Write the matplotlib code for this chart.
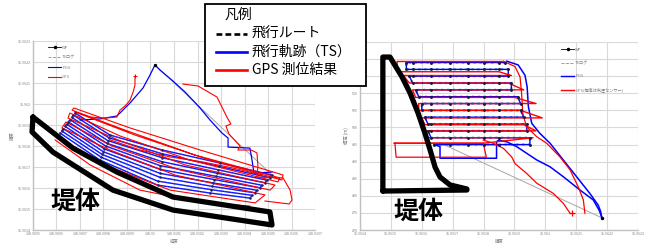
import matplotlib
matplotlib.use('Agg')
import matplotlib.pyplot as plt
from matplotlib.lines import Line2D
from matplotlib.patches import Rectangle

plt.rcParams['font.family'] = ['Noto Sans CJK JP', 'DejaVu Sans']

# ---------------- 左図 (経度 / 緯度) ----------------
# 往復飛行のパス (下から上へ 10 本): 始点, 中間1, 中間2, 中間3, 終点
pass_lon_s = [138.909615, 138.909622, 138.909629, 138.909636, 138.909643, 138.909650, 138.909658, 138.909665, 138.909672, 138.909679]
pass_lon_m1 = [138.909785, 138.909790, 138.909794, 138.909799, 138.909804, 138.909809, 138.909814, 138.909818, 138.909823, 138.909828]
pass_lon_m2 = [138.91003, 138.91003, 138.91004, 138.91004, 138.91004, 138.91004, 138.91005, 138.91005, 138.91005, 138.91005]
pass_lon_m3 = [138.910253, 138.910258, 138.910262, 138.910267, 138.910272, 138.910277, 138.910281, 138.910286, 138.910291, 138.910296]
pass_lon_e = [138.910423, 138.910433, 138.910444, 138.910454, 138.910465, 138.910475, 138.910486, 138.910496, 138.910507, 138.910517]
pass_lat_s = [35.961862, 35.961872, 35.961883, 35.961894, 35.961904, 35.961915, 35.961925, 35.961936, 35.961947, 35.961957]
pass_lat_m1 = [35.961733, 35.961747, 35.961760, 35.961773, 35.961786, 35.961800, 35.961813, 35.961826, 35.961839, 35.961852]
pass_lat_m2 = [35.961614, 35.961633, 35.961651, 35.961670, 35.961689, 35.961707, 35.961725, 35.961744, 35.961763, 35.961781]
pass_lat_m3 = [35.961576, 35.961592, 35.961608, 35.961624, 35.961640, 35.961656, 35.961671, 35.961687, 35.961703, 35.961719]
pass_lat_e = [35.961552, 35.961565, 35.961577, 35.961589, 35.961601, 35.961613, 35.961625, 35.961637, 35.961649, 35.961662]

# 移動区間 (POS)
transit_lon = [138.909700, 138.909785, 138.909857, 138.909870, 138.909913, 138.909968, 138.909998, 138.910019,
               138.910040, 138.910091, 138.910147, 138.910211, 138.910253, 138.910304, 138.910330, 138.910330,
               138.910423, 138.910432, 138.910440, 138.910517]
transit_lat = [35.961924, 35.961929, 35.961943, 35.961957, 35.962005, 35.962076, 35.962138, 35.962186,
               35.962162, 35.962114, 35.962057, 35.961981, 35.961924, 35.961862, 35.961838, 35.961795,
               35.961790, 35.961733, 35.961671, 35.961676]

# 飛行ルート (WP) 直線区間
route_lon = [138.910019, 138.910517]
route_lat = [35.962186, 35.961662]

# GPS パス (8 本): 始点, 中間1, 中間2, 終点
gps_lon_s = [138.909606, 138.909623, 138.909640, 138.909649, 138.909657, 138.909666, 138.909674, 138.909679]
gps_lon_m1 = [138.909806, 138.909828, 138.909836, 138.909862, 138.909870, 138.909891, 138.909913, 138.909934]
gps_lon_m2 = [138.910083, 138.910104, 138.910125, 138.910147, 138.910168, 138.910189, 138.910211, 138.910253]
gps_lon_e = [138.910445, 138.910487, 138.910509, 138.910530, 138.910542, 138.910551, 138.910564, 138.910559]
gps_lat_s = [35.961838, 35.961886, 35.961914, 35.961933, 35.961957, 35.961971, 35.961981, 35.961962]
gps_lat_m1 = [35.961710, 35.961781, 35.961800, 35.961829, 35.961848, 35.961876, 35.961886, 35.961852]
gps_lat_m2 = [35.961590, 35.961662, 35.961686, 35.961710, 35.961733, 35.961757, 35.961781, 35.961733]
gps_lat_e = [35.961529, 35.961567, 35.961590, 35.961614, 35.961629, 35.961648, 35.961662, 35.961638]

gpsA_lon = [138.909934, 138.909934, 138.909926, 138.909913, 138.909896, 138.909870, 138.909857, 138.909806, 138.909743, 138.909679]
gpsA_lat = [35.962133, 35.962090, 35.962057, 35.962019, 35.961995, 35.961971, 35.961938, 35.961933, 35.961938, 35.961962]
gpsB_lon = [138.910138, 138.910202, 138.910283, 138.910325, 138.910342, 138.910321, 138.910334, 138.910381, 138.910372,
            138.910428, 138.910453, 138.910457, 138.910453, 138.910564, 138.910594, 138.910602, 138.910590, 138.910487]
gpsB_lat = [35.962095, 35.962086, 35.962033, 35.961938, 35.961905, 35.961895, 35.961857, 35.961800, 35.961781,
            35.961781, 35.961767, 35.961705, 35.961652, 35.961648, 35.961590, 35.961543, 35.961524, 35.961538]
gpsC_lon = [138.909828, 138.909955, 138.910083, 138.910223, 138.910351, 138.910474]
gpsC_lat = [35.961829, 35.961781, 35.961748, 35.961724, 35.961695, 35.961662]
gpsD_lon = [138.909594, 138.909743, 138.909955, 138.910211, 138.910423]
gpsD_lat = [35.961829, 35.961710, 35.961590, 35.961533, 35.961514]

# 堤体の輪郭 (左)
damL_lon = [138.909500, 138.909670, 138.909857, 138.910096, 138.910508, 138.910517, 138.910096, 138.909840, 138.909585, 138.909496, 138.909500]
damL_lat = [35.961938, 35.961790, 35.961676, 35.961557, 35.961486, 35.961424, 35.961495, 35.961590, 35.961771, 35.961867, 35.961938]

lonL_ticks = [138.9095, 138.9096, 138.9097, 138.9098, 138.9099, 138.9100, 138.9101, 138.9102, 138.9103, 138.9104, 138.9105, 138.9106, 138.9107]
lonL_labels = ['138.9095', '138.9096', '138.9097', '138.9098', '138.9099', '138.91', '138.9101', '138.9102', '138.9103', '138.9104', '138.9105', '138.9106', '138.9107']
latL_ticks = [35.9614, 35.9615, 35.9616, 35.9617, 35.9618, 35.9619, 35.9620, 35.9621, 35.9622, 35.9623]
latL_labels = ['35.9614', '35.9615', '35.9616', '35.9617', '35.9618', '35.9619', '35.962', '35.9621', '35.9622', '35.9623']

# ---------------- 右図 (緯度 / 標高) ----------------
row_alt = [519, 517, 515, 513, 511, 509, 507, 505, 503, 501, 499, 497, 495]
row_start = [35.96155, 35.96155, 35.96156, 35.96157, 35.96158, 35.96159, 35.96160, 35.96160, 35.96161, 35.96162, 35.96162, 35.96163, 35.96164]
row_end = [35.96187, 35.96188, 35.96188, 35.96189, 35.96189, 35.96191, 35.96192, 35.96192, 35.96193, 35.96194, 35.96194, 35.96195, 35.96195]
wp_lat_marks = [35.96157, 35.96163, 35.96169, 35.96175, 35.96180, 35.96185]

gps_row_alt = [519.3, 516.3, 515.2, 513.0, 511.0, 508.8, 507.0, 505.0, 502.8, 500.8, 499.0, 497.0, 495.4]
gps_row_start = [35.96152, 35.96152, 35.96154, 35.96156, 35.96157, 35.96158, 35.96159, 35.96159, 35.96160, 35.96161, 35.96161, 35.96162, 35.96151]
gps_row_end = [35.96186, 35.96185, 35.96189, 35.96188, 35.96193, 35.96190, 35.96197, 35.96192, 35.96199, 35.96193, 35.96197, 35.96196, 35.96180]

pos_out_lat = [35.962182, 35.962179, 35.962171, 35.962144, 35.962101, 35.962058, 35.962015, 35.961982, 35.961956,
               35.961945, 35.961941, 35.961934, 35.961912, 35.961875]
pos_out_alt = [473.9, 475.4, 477.3, 480.7, 485.6, 490.5, 495.4, 498.3, 501.2, 506.1, 511.9, 515.3, 518.3, 519.4]
pos_in_lat = [35.961640, 35.961659, 35.961659, 35.961842, 35.961842, 35.961848, 35.961875, 35.961907, 35.961972,
              35.962015, 35.962058, 35.962112, 35.962155, 35.962174, 35.962182]
pos_in_alt = [495.0, 494.4, 491.0, 491.0, 495.8, 496.3, 495.8, 494.4, 490.5, 488.5, 485.6, 481.7, 478.8, 475.8, 473.9]

gps_out_lat = [35.962128, 35.962123, 35.962106, 35.962080, 35.962047, 35.962004, 35.961972, 35.961939, 35.961927,
               35.961923, 35.961918, 35.961902, 35.961864]
gps_out_alt = [474.9, 478.8, 482.7, 487.6, 491.4, 495.4, 497.3, 500.2, 504.1, 510.0, 514.8, 517.8, 519.4]
gps_box_lat = [35.961513, 35.961799, 35.961809, 35.961517, 35.961513]
gps_box_alt = [495.4, 495.4, 491.3, 491.3, 495.4]
gps_in_lat = [35.961799, 35.961831, 35.961864, 35.961891, 35.961902, 35.961939, 35.961972, 35.962026, 35.962058, 35.962080]
gps_in_alt = [496.3, 495.4, 493.9, 491.4, 489.4, 486.6, 483.7, 480.7, 477.8, 474.9]
gps_land = (35.962085, 474.9)

routeR_lat = [35.961659, 35.962182]
routeR_alt = [495.5, 473.6]

damR_lat = [35.961474, 35.961474, 35.961497, 35.961536, 35.961562, 35.961588, 35.961610, 35.961627, 35.961643,
            35.961659, 35.961691, 35.961746, 35.961746, 35.961474]
damR_alt = [481.4, 520.6, 520.6, 514.8, 510.1, 504.2, 498.4, 493.4, 488.4, 485.5, 483.2, 482.0, 481.7, 481.4]

latR_ticks = [35.9614, 35.9615, 35.9616, 35.9617, 35.9618, 35.9619, 35.9620, 35.9621, 35.9622, 35.9623]
latR_labels = ['35.9614', '35.9615', '35.9616', '35.9617', '35.9618', '35.9619', '35.962', '35.9621', '35.9622', '35.9623']
alt_ticks = [470, 475, 480, 485, 490, 495, 500, 505, 510, 515, 520, 525]

# 凡例
legend_names = ['飛行ルート', '飛行軌跡（TS）', 'GPS 測位結果']

BLUE = '#0000ff'
RED = '#ff0000'
TS = '#5b9bd5'
GRID = '#d9d9d9'
TICK = '#7f7f7f'


def style_axes(ax, xt, xl, yt, yl, xlim, ylim, xlabel, ylabel):
    ax.set_xlim(*xlim)
    ax.set_ylim(*ylim)
    ax.set_xticks(xt)
    ax.set_xticklabels(xl)
    ax.set_yticks(yt)
    ax.set_yticklabels(yl)
    ax.grid(True, color=GRID, lw=0.8)
    ax.set_axisbelow(True)
    for s in ['top', 'right']:
        ax.spines[s].set_visible(False)
    for s in ['left', 'bottom']:
        ax.spines[s].set_color('#c0c0c0')
        ax.spines[s].set_linewidth(1.0)
    ax.tick_params(length=0, labelsize=2.6, labelcolor=TICK, pad=1.5)
    ax.set_xlabel(xlabel, fontsize=3.2, color=TICK, labelpad=2)
    ax.set_ylabel(ylabel, fontsize=3.2, color=TICK, labelpad=2)


def lawnmower(lon_cols, lat_cols, order):
    xs, ys = [], []
    for k, i in enumerate(order):
        px = [c[i] for c in lon_cols]
        py = [c[i] for c in lat_cols]
        if k % 2 == 1:
            px, py = px[::-1], py[::-1]
        xs += px
        ys += py
    return xs, ys


fig = plt.figure(figsize=(6.49, 2.45), dpi=100)
axL = fig.add_axes([0.0508, 0.0612, 0.4346, 0.7714])
axR = fig.add_axes([0.5547, 0.0612, 0.4284, 0.7673])

# ---- 左図 ----
style_axes(axL, lonL_ticks, lonL_labels, latL_ticks, latL_labels,
           (138.9095, 138.9107), (35.9614, 35.9623), '経度', '緯度')

lon_cols = [pass_lon_s, pass_lon_m1, pass_lon_m2, pass_lon_m3, pass_lon_e]
lat_cols = [pass_lat_s, pass_lat_m1, pass_lat_m2, pass_lat_m3, pass_lat_e]
lx, ly = lawnmower(lon_cols, lat_cols, list(range(9, -1, -1)))
gx, gy = lawnmower([gps_lon_s, gps_lon_m1, gps_lon_m2, gps_lon_e],
                   [gps_lat_s, gps_lat_m1, gps_lat_m2, gps_lat_e], list(range(7, -1, -1)))

axL.plot(route_lon, route_lat, color='#a6a6a6', lw=0.7)
axL.plot(lx, ly, color=BLUE, lw=1.0)
axL.plot(lx, ly, color=TS, lw=0.4, ls=':')
axL.plot(transit_lon, transit_lat, color=BLUE, lw=0.9)
axL.plot(gx, gy, color=RED, lw=0.8)
for xs, ys in [(gpsA_lon, gpsA_lat), (gpsB_lon, gpsB_lat), (gpsC_lon, gpsC_lat), (gpsD_lon, gpsD_lat)]:
    axL.plot(xs, ys, color=RED, lw=0.8)
axL.plot(lx, ly, ls='none', marker='o', ms=0.8, color='#202060')
axL.plot(route_lon[:1], route_lat[:1], ls='none', marker='o', ms=1.4, color='black')
axL.plot(gpsA_lon[:1], gpsA_lat[:1], ls='none', marker='+', ms=3, color=RED, mew=0.7)

axL.plot(damL_lon, damL_lat, color='black', lw=3.8, solid_joinstyle='round',
         solid_capstyle='round', clip_on=False, zorder=6)

hL = [Line2D([], [], color='black', lw=0.6, marker='o', ms=1.5),
      Line2D([], [], color=TS, lw=0.6, ls='--'),
      Line2D([], [], color=BLUE, lw=0.8),
      Line2D([], [], color=RED, lw=0.8)]
axL.legend(hL, ['WP', 'TSログ', 'POS', 'GPS'], loc='upper left', bbox_to_anchor=(0.04, 0.995),
           frameon=False, fontsize=3.0, handlelength=3.2, handletextpad=0.2, labelspacing=1.4,
           labelcolor=TICK)

# ---- 右図 ----
style_axes(axR, latR_ticks, latR_labels, alt_ticks, [str(v) for v in alt_ticks],
           (35.9614, 35.9623), (470, 525), '緯度', '標高 (m)')

rx, ry = lawnmower([row_end, row_start], [row_alt, row_alt], list(range(13)))
grx, gry = lawnmower([gps_row_end, gps_row_start], [gps_row_alt, gps_row_alt], list(range(13)))

axR.plot(routeR_lat, routeR_alt, color='#a6a6a6', lw=0.7)
axR.plot(rx, ry, color=TS, lw=1.6, ls=':')
axR.plot(pos_out_lat, pos_out_alt, color=BLUE, lw=1.1)
axR.plot(rx, ry, color=BLUE, lw=1.0)
axR.plot(pos_in_lat, pos_in_alt, color=BLUE, lw=1.1)
axR.plot(gps_out_lat, gps_out_alt, color=RED, lw=0.9)
axR.plot(grx, gry, color=RED, lw=1.0)
axR.plot(gps_box_lat, gps_box_alt, color=RED, lw=0.9)
axR.plot(gps_in_lat, gps_in_alt, color=RED, lw=0.9)
for a, s, e in zip(row_alt, row_start, row_end):
    pts = [s] + [v for v in wp_lat_marks if s < v < e] + [e]
    axR.plot(pts, [a] * len(pts), ls='none', marker='o', ms=1.1, color='#1a1a3a')
axR.plot(routeR_lat[1:], routeR_alt[1:], ls='none', marker='o', ms=1.5, color='black')
axR.plot([gps_land[0]], [gps_land[1]], ls='none', marker='+', ms=5, mew=0.9, color=RED)

axR.plot(damR_lat, damR_alt, color='black', lw=3.8, solid_joinstyle='round',
         solid_capstyle='round', clip_on=False, zorder=6)

hR = [Line2D([], [], color='black', lw=0.6, marker='o', ms=1.5),
      Line2D([], [], color=TS, lw=0.6, ls='--'),
      Line2D([], [], color=BLUE, lw=1.0),
      Line2D([], [], color=RED, lw=1.0)]
axR.legend(hR, ['WP', 'TSログ', 'POS', 'GPS(標高は気圧センサー)'], loc='upper left',
           bbox_to_anchor=(0.71, 0.99), frameon=False, fontsize=3.0, handlelength=3.2,
           handletextpad=0.2, labelspacing=2.2, labelcolor=TICK)

# ---- 堤体ラベル ----
fig.text(0.1156, 0.1755, '堤体', fontsize=18, fontweight='bold', ha='center', va='center', zorder=12)
fig.text(0.644, 0.1347, '堤体', fontsize=18, fontweight='bold', ha='center', va='center', zorder=12)

# ---- 凡例ボックス ----
W, H = 649.0, 245.0
box = Rectangle((205 / W, 1 - 86 / H), 161 / W, 82 / H, transform=fig.transFigure,
                facecolor='white', edgecolor='black', lw=1.3, zorder=10)
fig.add_artist(box)
fig.text(225 / W, 1 - 15 / H, '凡例', fontsize=10, va='center', ha='left', zorder=11)
styles = [dict(color='black', ls=(0, (2.2, 1.2))), dict(color=BLUE), dict(color=RED)]
for k, (name, st) in enumerate(zip(legend_names, styles)):
    y = 1 - (34 + 18 * k) / H
    fig.add_artist(Line2D([216 / W, 247 / W], [y, y], transform=fig.transFigure, lw=1.9, zorder=11, **st))
    fig.text(252 / W, y, name, fontsize=10, va='center', ha='left', zorder=11)

fig.savefig('out.png', dpi=100)
